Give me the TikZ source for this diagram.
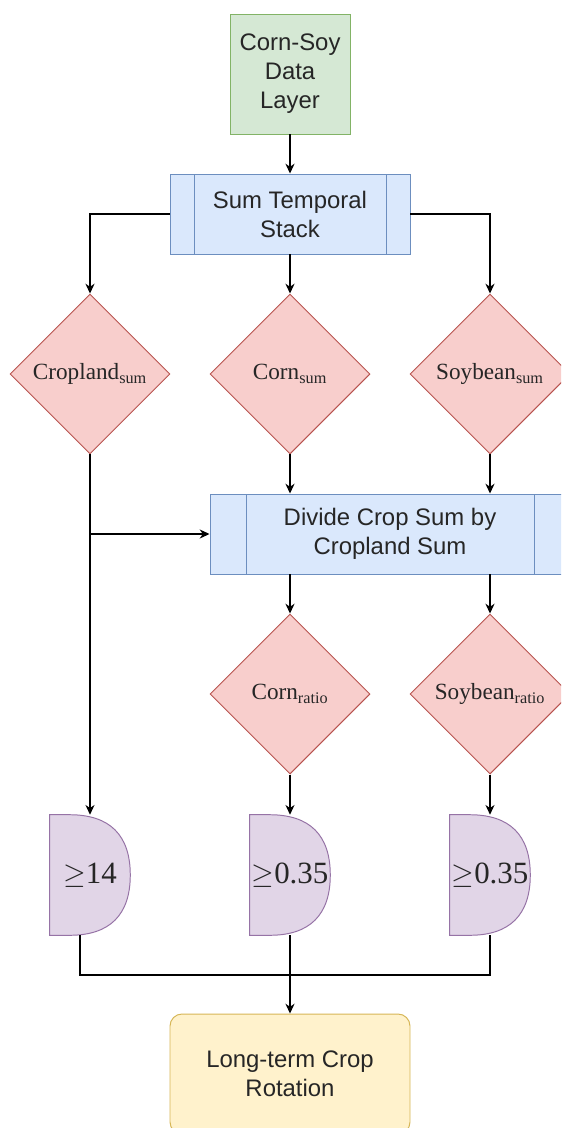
\documentclass[tikz,border=0pt]{standalone}
\usepackage{fontspec}
\setmainfont{Liberation Sans}
\newfontfamily\timesfont{Liberation Serif}
\usetikzlibrary{positioning, arrows.meta, calc, shapes.geometric, backgrounds}

\definecolor{greenfill}{HTML}{D5E8D4}
\definecolor{greendraw}{HTML}{82B366}
\definecolor{bluefill}{HTML}{DAE8FC}
\definecolor{bluedraw}{HTML}{6C8EBF}
\definecolor{redfill}{HTML}{F8CECC}
\definecolor{reddraw}{HTML}{B85450}
\definecolor{purplefill}{HTML}{E1D5E7}
\definecolor{purpledraw}{HTML}{9673A6}
\definecolor{yellowfill}{HTML}{FFF2CC}
\definecolor{yellowdraw}{HTML}{D6B656}

\begin{document}
\begin{tikzpicture}[
    >={Stealth[length=7pt, width=6.5pt]},
    every node/.style={font=\fontsize{17}{20.6}\selectfont, text=black!85},
    % Input data layer (green)
    databox/.style={rectangle, draw=greendraw, fill=greenfill, line width=0.7pt, minimum width=3cm, minimum height=3cm, inner sep=0pt, align=center},
    % Predefined process box (blue, bars at both sides)
    procbox/.style={rectangle, draw=bluedraw, fill=bluefill, line width=0.7pt, minimum height=2cm, inner sep=0pt, align=center,
        path picture={
            \draw[bluedraw, line width=0.7pt]
                ($(path picture bounding box.north west)!0.1!(path picture bounding box.north east)$) --
                ($(path picture bounding box.south west)!0.1!(path picture bounding box.south east)$);
            \draw[bluedraw, line width=0.7pt]
                ($(path picture bounding box.north east)!0.1!(path picture bounding box.north west)$) --
                ($(path picture bounding box.south east)!0.1!(path picture bounding box.south west)$);
        }},
    % Variable diamond (red)
    varnode/.style={diamond, shape aspect=1, draw=reddraw, fill=redfill, line width=0.7pt, minimum width=4cm, minimum height=4cm, inner sep=0pt, font=\timesfont\fontsize{16.5}{20}\selectfont},
    % Threshold (delay shape, purple)
    delaybox/.style={rectangle, minimum width=2cm, minimum height=3cm, inner sep=0pt, font=\timesfont\fontsize{22}{26}\selectfont},
    delayline/.style={draw=purpledraw, fill=purplefill, line width=0.7pt},
    % Final output (yellow)
    outbox/.style={rectangle, rounded corners=0.3cm, draw=yellowdraw, fill=yellowfill, line width=0.7pt, minimum width=6cm, minimum height=3cm, inner sep=0pt, align=center},
    % Connectors
    arr/.style={->, line width=0.8pt},
    wire/.style={line width=0.8pt},
]

% ============================================================
% Helper macro: delay shape with threshold text
% Arguments: #1=name, #2=position, #3=text
% ============================================================
\newcommand{\delaynode}[3]{
    \node[delaybox] (#1) at (#2) {#3};
    \begin{pgfonlayer}{background}
    \path[delayline] (#1.north west) -- ([xshift=0.5cm]#1.north west)
        .. controls ([xshift=1.5cm]#1.north west) and ([yshift=1cm]#1.east) .. (#1.east)
        .. controls ([yshift=-1cm]#1.east) and ([xshift=1.5cm]#1.south west) .. ([xshift=0.5cm]#1.south west)
        -- (#1.south west) -- cycle;
    \end{pgfonlayer}
}

\clip (0,0) rectangle (14.025,-28.2);

% --- Top: data layer and summing ---
\node[databox] (datalayer) at (7.25,-1.85) {Corn-Soy\\Data\\Layer};
\node[procbox, minimum width=6cm] (sumstack) at (7.25,-5.35) {Sum Temporal\\Stack};

% --- Sums ---
\node[varnode] (cropsum) at (2.25,-9.35) {Cropland\textsubscript{sum}};
\node[varnode] (cornsum) at (7.25,-9.35) {Corn\textsubscript{sum}};
\node[varnode] (soysum) at (12.25,-9.35) {Soybean\textsubscript{sum}};

% --- Ratio ---
\node[procbox, minimum width=9cm] (divide) at (9.75,-13.35) {Divide Crop Sum by\\Cropland Sum};
\node[varnode] (cornratio) at (7.25,-17.35) {Corn\textsubscript{ratio}};
\node[varnode] (soyratio) at (12.25,-17.35) {Soybean\textsubscript{ratio}};

% --- Thresholds ---
\delaynode{cmpland}{2.25,-21.875}{$\geq$14}
\delaynode{cmpcorn}{7.25,-21.875}{$\geq$0.35}
\delaynode{cmpsoy}{12.25,-21.875}{$\geq$0.35}

% --- Output ---
\node[outbox] (rotation) at (7.25,-26.85) {Long-term Crop\\Rotation};
\coordinate (join) at (7.25,-24.375);

% --- Connections ---
\draw[arr] (datalayer) -- (sumstack);
\draw[arr] (sumstack.west) -| (cropsum.north);
\draw[arr] (sumstack) -- (cornsum);
\draw[arr] (sumstack.east) -| (soysum.north);

\draw[arr] (cropsum.south) -- (cmpland.north);
\draw[arr] (cropsum.south) |- (divide.west);
\draw[arr] (cornsum.south) -- (cornsum.south |- divide.north);
\draw[arr] (soysum.south) -- (soysum.south |- divide.north);

\draw[arr] (divide.south -| cornratio.north) -- (cornratio.north);
\draw[arr] (divide.south -| soyratio.north) -- (soyratio.north);
\draw[arr] (cornratio) -- (cmpcorn);
\draw[arr] (soyratio) -- (cmpsoy);

\draw[wire] ([xshift=-0.25cm]cmpland.south) |- (join);
\draw[wire] (cmpsoy.south) |- (join);
\draw[arr] (cmpcorn.south) -- (rotation.north);

\end{tikzpicture}
\end{document}
